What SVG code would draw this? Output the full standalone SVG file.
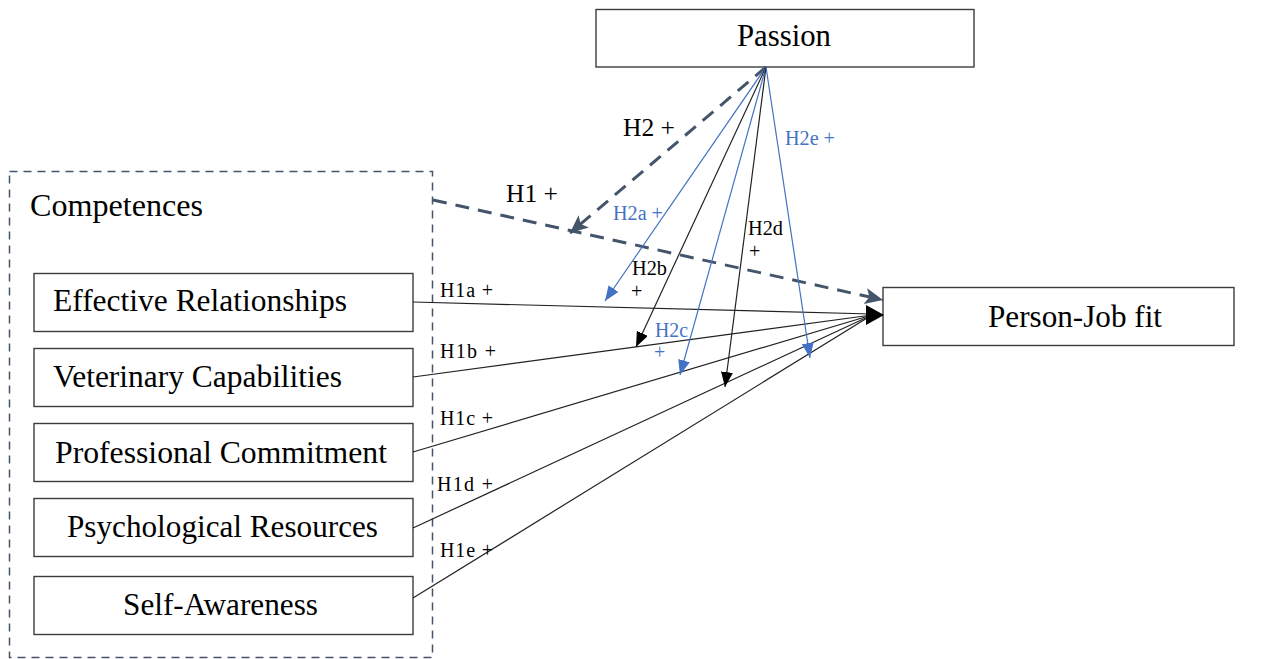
<svg xmlns="http://www.w3.org/2000/svg" width="1263" height="659" viewBox="0 0 1263 659">
<style>
  .box{fill:#fff;stroke:#3c3c3c;stroke-width:1.4}
  .big{font-family:"Liberation Serif","Times New Roman",serif;font-size:31px;fill:#000}
  .lbl{font-family:"Liberation Serif","Times New Roman",serif;font-size:20px;fill:#000}
  .hl{font-family:"Liberation Serif","Times New Roman",serif;font-size:26px;fill:#000}
  .blue{fill:#4472C4}
  .dash{fill:none;stroke:#44546A;stroke-width:3;stroke-dasharray:14 9}
  .blk{fill:none;stroke:#222;stroke-width:1.2}
  .bl{fill:none;stroke:#4472C4;stroke-width:1.2}
</style>
<defs>
  <marker id="ad" markerUnits="userSpaceOnUse" markerWidth="20" markerHeight="18" refX="18" refY="8" orient="auto">
    <path d="M0,0 L18,8 L0,16 L4,8 Z" fill="#44546A"/>
  </marker>
  <marker id="ak" markerUnits="userSpaceOnUse" markerWidth="16" markerHeight="14" refX="15" refY="6" orient="auto">
    <path d="M0,0 L15,6 L0,12 Z" fill="#000"/>
  </marker>
  <marker id="au" markerUnits="userSpaceOnUse" markerWidth="16" markerHeight="14" refX="15" refY="6" orient="auto">
    <path d="M0,0 L15,6 L0,12 Z" fill="#4472C4"/>
  </marker>
</defs>

<g id="competences">
  <rect x="9.5" y="171.5" width="423" height="486" fill="none" stroke="#44546A" stroke-width="1.5" stroke-dasharray="8 6"/>
  <text class="big" x="30" y="216" textLength="173" lengthAdjust="spacingAndGlyphs">Competences</text>
</g>

<g id="passion">
  <rect class="box" x="596" y="9.5" width="378" height="57.5"/>
  <text class="big" x="737" y="46" textLength="94" lengthAdjust="spacingAndGlyphs">Passion</text>
</g>

<g id="person-job-fit">
  <rect class="box" x="883" y="287.5" width="351" height="58"/>
  <text class="big" x="988" y="327" textLength="174" lengthAdjust="spacingAndGlyphs">Person-Job fit</text>
</g>

<g id="effective-relationships">
  <rect class="box" x="34" y="273.5" width="379" height="58"/>
  <text class="big" x="53" y="311" textLength="294" lengthAdjust="spacingAndGlyphs">Effective Relationships</text>
</g>
<g id="veterinary-capabilities">
  <rect class="box" x="34" y="348.5" width="379" height="58"/>
  <text class="big" x="53" y="387" textLength="289" lengthAdjust="spacingAndGlyphs">Veterinary Capabilities</text>
</g>
<g id="professional-commitment">
  <rect class="box" x="34" y="423.5" width="379" height="58"/>
  <text class="big" x="55" y="463" textLength="332" lengthAdjust="spacingAndGlyphs">Professional Commitment</text>
</g>
<g id="psychological-resources">
  <rect class="box" x="34" y="498.5" width="379" height="58"/>
  <text class="big" x="67" y="537" textLength="311" lengthAdjust="spacingAndGlyphs">Psychological Resources</text>
</g>
<g id="self-awareness">
  <rect class="box" x="34" y="576.5" width="379" height="58"/>
  <text class="big" x="123" y="615" textLength="195" lengthAdjust="spacingAndGlyphs">Self-Awareness</text>
</g>

<g id="connectors">
  <line class="blk" x1="413" y1="302" x2="872" y2="314"/>
  <line class="blk" x1="413" y1="377" x2="872" y2="315"/>
  <line class="blk" x1="413" y1="452" x2="872" y2="315"/>
  <line class="blk" x1="413" y1="528" x2="872" y2="315"/>
  <line class="blk" x1="413" y1="598" x2="872" y2="315"/>
  <path d="M866,305 L884,315 L866,325 Z" fill="#000"/>
  <line class="dash" x1="433" y1="200" x2="883" y2="300" marker-end="url(#ad)"/>
  <line class="dash" x1="766" y1="67" x2="570" y2="233" marker-end="url(#ad)"/>
  <line class="bl" x1="766" y1="67" x2="605" y2="301" marker-end="url(#au)"/>
  <line class="blk" x1="766" y1="67" x2="636" y2="347" marker-end="url(#ak)"/>
  <line class="bl" x1="766" y1="67" x2="680" y2="375" marker-end="url(#au)"/>
  <line class="blk" x1="766" y1="67" x2="725" y2="387" marker-end="url(#ak)"/>
  <line class="bl" x1="766" y1="67" x2="810" y2="358" marker-end="url(#au)"/>
</g>

<g id="labels">
  <text class="hl" x="623" y="136" textLength="52" lengthAdjust="spacingAndGlyphs">H2 +</text>
  <text class="hl" x="506" y="202" textLength="52" lengthAdjust="spacingAndGlyphs">H1 +</text>
  <text class="lbl blue" x="785" y="145" textLength="50" lengthAdjust="spacingAndGlyphs">H2e +</text>
  <text class="lbl blue" x="613" y="220" textLength="50" lengthAdjust="spacingAndGlyphs">H2a +</text>
  <text class="lbl" x="748" y="235" textLength="35" lengthAdjust="spacingAndGlyphs">H2d</text>
  <text class="lbl" x="749" y="258">+</text>
  <text class="lbl" x="632" y="275" textLength="35" lengthAdjust="spacingAndGlyphs">H2b</text>
  <text class="lbl" x="631" y="298">+</text>
  <text class="lbl blue" x="655" y="337" textLength="33" lengthAdjust="spacingAndGlyphs">H2c</text>
  <text class="lbl blue" x="654" y="359">+</text>
  <text class="lbl" x="440" y="297" textLength="53" lengthAdjust="spacing">H1a +</text>
  <text class="lbl" x="440" y="358" textLength="56" lengthAdjust="spacing">H1b +</text>
  <text class="lbl" x="440" y="425" textLength="53" lengthAdjust="spacing">H1c +</text>
  <text class="lbl" x="437" y="491" textLength="56" lengthAdjust="spacing">H1d +</text>
  <text class="lbl" x="440" y="557" textLength="53" lengthAdjust="spacing">H1e +</text>
</g>
</svg>
